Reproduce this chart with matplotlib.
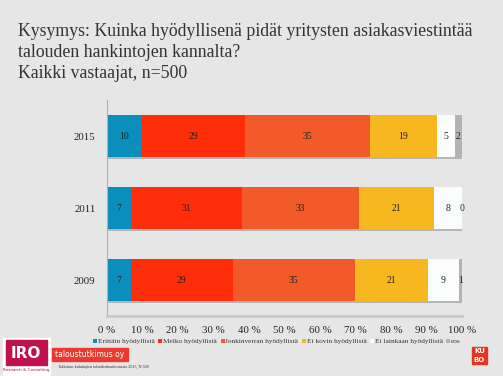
import numpy as np
import matplotlib.pyplot as plt
import matplotlib.patheffects as pe
from matplotlib.patches import Rectangle

years = ['2015', '2011', '2009']
categories = ['Erittäin hyödyllistä', 'Melko hyödyllistä', 'Jonkinverran hyödyllistä',
              'Ei kovin hyödyllistä', 'Ei lainkaan hyödyllistä', 'eos']
# shares, per year
erittain = [10.0, 7.0, 6.8]
melko = [29.0, 31.0, 28.6]
jonkin = [35.0, 33.0, 34.5]
ei_kovin = [18.9, 21.1, 20.5]
ei_lainkaan = [5.0, 7.9, 8.7]
eos = [2.0, 0.0, 0.9]
# labels as printed on the bars
labels = [[10, 29, 35, 19, 5, 2],
          [7, 31, 33, 21, 8, 0],
          [7, 29, 35, 21, 9, 1]]
colors = ['#0a8fbd', '#ff2e0a', '#f25a2a', '#f7b71f', '#fbfdfd', '#b3b3b3']
ticks = np.arange(0, 101, 10)

bg = '#e6e6e6'
serif = ['Liberation Serif', 'DejaVu Serif']

fig = plt.figure(figsize=(5.03, 3.76), dpi=100, facecolor=bg)
ax = fig.add_axes([106.7 / 503, 1 - 316 / 376, 355.5 / 503, 216 / 376])
ax.set_facecolor(bg)

series = [erittain, melko, jonkin, ei_kovin, ei_lainkaan, eos]
y = np.arange(len(years))
left = np.zeros(len(years))
shadow = [pe.SimplePatchShadow(offset=(1.2, -1.2), shadow_rgbFace='#b5b5b5', alpha=1), pe.Normal()]
for i, vals in enumerate(series):
    vals = np.array(vals)
    bars = ax.barh(y, vals, left=left, height=0.58, color=colors[i], label=categories[i],
                   linewidth=0)
    for b in bars:
        b.set_path_effects(shadow)
    for j in range(len(years)):
        ax.text(left[j] + vals[j] / 2, y[j], str(labels[j][i]), ha='center', va='center',
                fontsize=7, family=serif, color='#222222')
    left += vals

ax.set_ylim(2.5, -0.5)
ax.set_xlim(0, 100)
ax.set_yticks(y)
ax.set_yticklabels(years, family=serif, fontsize=7.8, color='#222222')
ax.set_xticks(ticks)
ax.set_xticklabels([f'{t} %' for t in ticks], family=serif, fontsize=7.8, color='#222222')
ax.tick_params(length=0, pad=8)
ax.tick_params(axis='x', pad=7)
for s in ['top', 'right']:
    ax.spines[s].set_visible(False)
ax.spines['left'].set_color('#b0b0b0')
ax.spines['bottom'].set_color('#c8c8c8')
ax.spines['bottom'].set_linewidth(2)

handles = [plt.Line2D([], [], marker='s', linestyle='', markersize=3, color=c,
                      markeredgewidth=0) for c in colors]
fig.legend(handles, categories, loc='center', bbox_to_anchor=(277 / 503, 1 - 341 / 376),
           ncol=6, frameon=False, prop={'family': serif, 'size': 5.2}, handlelength=0.6,
           handletextpad=0.1, columnspacing=0.45, labelcolor='#333333')

fig.text(18 / 503, 1 - 23 / 376,
         'Kysymys: Kuinka hyödyllisenä pidät yritysten asiakasviestintää\n'
         'talouden hankintojen kannalta?\nKaikki vastaajat, n=500',
         ha='left', va='top', fontsize=12.75, family=serif, color='#333333', linespacing=1.3)

# logos and footnote
fig.patches.append(Rectangle((3 / 503, 1 - 375 / 376), 47 / 503, 37 / 376,
                             transform=fig.transFigure, color='white'))
fig.patches.append(Rectangle((6 / 503, 1 - 365 / 376), 41 / 503, 25 / 376,
                             transform=fig.transFigure, color='#c0124a'))
fig.text(26 / 503, 1 - 353 / 376, 'IRO', ha='center', va='center', color='white',
         fontsize=11, weight='bold', family='DejaVu Sans')
fig.text(26 / 503, 1 - 370 / 376, 'Research & Consulting', ha='center', va='center',
         color='#c0124a', fontsize=3, family='DejaVu Sans')
fig.patches.append(Rectangle((52 / 503, 1 - 361 / 376), 76 / 503, 13 / 376,
                             transform=fig.transFigure, color='#e83a2e'))
fig.text(90 / 503, 1 - 354.5 / 376, 'taloustutkimus oy', ha='center', va='center',
         color='white', fontsize=5.5, family='DejaVu Sans')
fig.text(58 / 503, 1 - 367 / 376, 'Tutkimus kuluttajien taloudenhankinnasta 2015, N:500',
         ha='left', va='center', fontsize=3, family=serif, color='#333333')
fig.patches.append(Rectangle((472 / 503, 1 - 364 / 376), 15 / 503, 17 / 376,
                             transform=fig.transFigure, color='#e8331f'))
fig.text(479.5 / 503, 1 - 351 / 376, 'KU', ha='center', va='center', color='white',
         fontsize=5, weight='bold', family='DejaVu Sans')
fig.text(479.5 / 503, 1 - 359.5 / 376, 'BO', ha='center', va='center', color='white',
         fontsize=5, weight='bold', family='DejaVu Sans')

fig.savefig('out.png', dpi=100, facecolor=bg)
